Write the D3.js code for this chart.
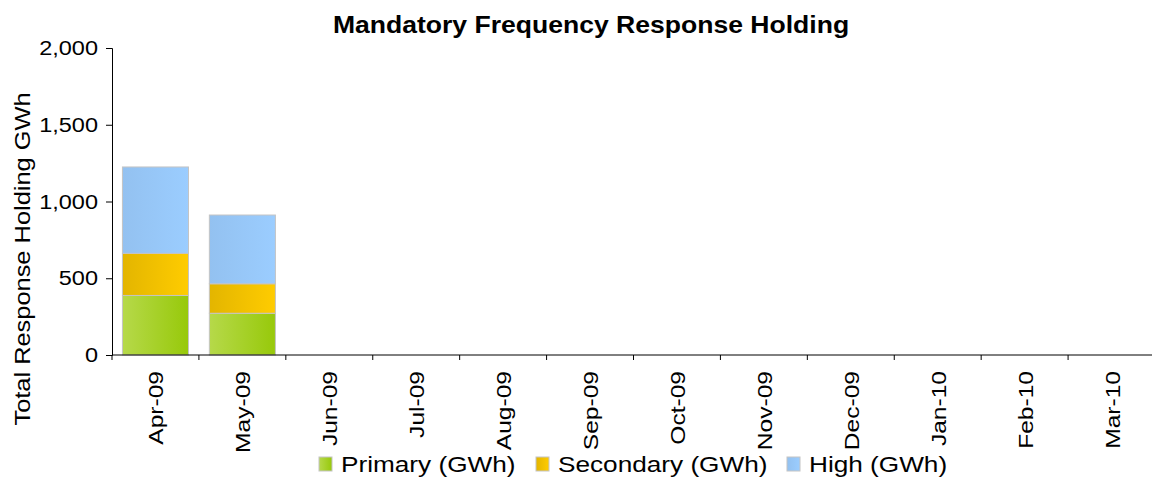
<!DOCTYPE html>
<html>
<head>
<meta charset="utf-8">
<script src="https://cdn.jsdelivr.net/npm/d3@7"></script>
<style>
  body { margin: 0; background: #fff; }
  svg { font-family: "Liberation Sans", Arial, sans-serif; }
</style>
</head>
<body>
<div id="chart"></div>
<script>
// data
var months    = ['Apr-09', 'May-09', 'Jun-09', 'Jul-09', 'Aug-09', 'Sep-09',
                 'Oct-09', 'Nov-09', 'Dec-09', 'Jan-10', 'Feb-10', 'Mar-10'];
var primary   = [388, 272, 0, 0, 0, 0, 0, 0, 0, 0, 0, 0];
var secondary = [274, 192, 0, 0, 0, 0, 0, 0, 0, 0, 0, 0];
var high      = [563, 448, 0, 0, 0, 0, 0, 0, 0, 0, 0, 0];
var yTicks    = [0, 500, 1000, 1500, 2000];

var seriesNames = ['Primary (GWh)', 'Secondary (GWh)', 'High (GWh)'];
var seriesKeys  = ['primary', 'secondary', 'high'];
// left -> right gradient stops for each series
var gradStops = {
    primary   : ['#b6d94a', '#97c90a'],
    secondary : ['#e3b500', '#ffcc00'],
    high      : ['#93c1f0', '#9bcdff']
};

var width = 1152, height = 479;
var margin = {top: 48, right: -3, bottom: 124, left: 112};
var wide = 1.17;   // the original font is drawn wider than Liberation Sans

var table = months.map(function(m, i) {
    return {month: m, primary: primary[i], secondary: secondary[i], high: high[i]};
});

var svg = d3.select('#chart').append('svg')
            .attr('width', width)
            .attr('height', height);

var defs = svg.append('defs');
seriesKeys.forEach(function(k) {
    var g = defs.append('linearGradient')
                .attr('id', 'grad-' + k)
                .attr('x1', '0%').attr('x2', '100%')
                .attr('y1', '0%').attr('y2', '0%');
    g.append('stop').attr('offset', '0%').attr('stop-color', gradStops[k][0]);
    g.append('stop').attr('offset', '100%').attr('stop-color', gradStops[k][1]);
});

var x = d3.scaleBand()
          .domain(months)
          .range([margin.left, width - margin.right])
          .paddingInner(0.24)
          .paddingOuter(0.12);

var y = d3.scaleLinear()
          .domain([0, 2000])
          .range([height - margin.bottom, margin.top]);

var stack = d3.stack().keys(seriesKeys);
var layers = stack(table);

// bars
svg.append('g')
   .selectAll('g')
   .data(layers)
   .enter()
   .append('g')
     .attr('fill', function(d) { return 'url(#grad-' + d.key + ')'; })
   .selectAll('rect')
   .data(function(d) { return d.filter(function(p) { return p[1] - p[0] > 0; }); })
   .enter()
   .append('rect')
     .attr('x', function(d) { return x(d.data.month); })
     .attr('width', x.bandwidth())
     .attr('y', function(d) { return y(d[1]); })
     .attr('height', function(d) { return y(d[0]) - y(d[1]); })
     .attr('stroke', '#c4c4c4')
     .attr('stroke-width', 1);

// y axis
var yAxis = svg.append('g')
   .attr('transform', 'translate(' + margin.left + ',0)')
   .call(d3.axisLeft(y).tickValues(yTicks).tickSize(6).tickPadding(8).tickFormat(d3.format(',')));
yAxis.select('.domain').attr('stroke', '#000');
yAxis.selectAll('text')
     .style('font-size', '21px')
     .attr('x', -14 / 1.12)
     .attr('transform', 'scale(1.12,1)')
     .attr('fill', '#000');

// x axis: ticks between categories
var step = x.step();
var xBounds = d3.range(months.length + 1).map(function(i) { return margin.left + i * step; });
var xAxis = svg.append('g').attr('class', 'x-axis');
xAxis.append('line')
     .attr('x1', margin.left).attr('x2', width - margin.right)
     .attr('y1', y(0)).attr('y2', y(0))
     .attr('stroke', '#000');
xAxis.selectAll('line.tick')
     .data(xBounds)
     .enter()
     .append('line')
       .attr('class', 'tick')
       .attr('x1', function(d) { return d; }).attr('x2', function(d) { return d; })
       .attr('y1', y(0)).attr('y2', y(0) + 5)
       .attr('stroke', '#000');
xAxis.selectAll('text')
     .data(months)
     .enter()
     .append('text')
       .attr('transform', function(d) {
           return 'translate(' + (x(d) + x.bandwidth() / 2 + 8) + ',' + (y(0) + 16) + ') rotate(-90) scale(' + wide + ',1)';
       })
       .attr('text-anchor', 'end')
       .style('font-size', '21px')
       .text(function(d) { return d; });

// title
svg.append('text')
   .attr('transform', 'translate(591,33) scale(1.155,1)')
   .attr('text-anchor', 'middle')
   .style('font-size', '23px')
   .style('font-weight', 'bold')
   .text('Mandatory Frequency Response Holding');

// y label
svg.append('text')
   .attr('transform', 'translate(30,259) rotate(-90) scale(1.155,1)')
   .attr('text-anchor', 'middle')
   .style('font-size', '22px')
   .text('Total Response Holding GWh');

// legend
var legendX = [319, 536, 787];
var legend = svg.append('g');
seriesKeys.forEach(function(k, i) {
    var g = legend.append('g').attr('transform', 'translate(' + legendX[i] + ',457)');
    g.append('rect')
     .attr('width', 13).attr('height', 14)
     .attr('fill', 'url(#grad-' + k + ')')
     .attr('stroke', '#c4c4c4');
    g.append('text')
     .attr('transform', 'translate(22,15) scale(1.19,1)')
     .style('font-size', '22px')
     .text(seriesNames[i]);
});
</script>
</body>
</html>
